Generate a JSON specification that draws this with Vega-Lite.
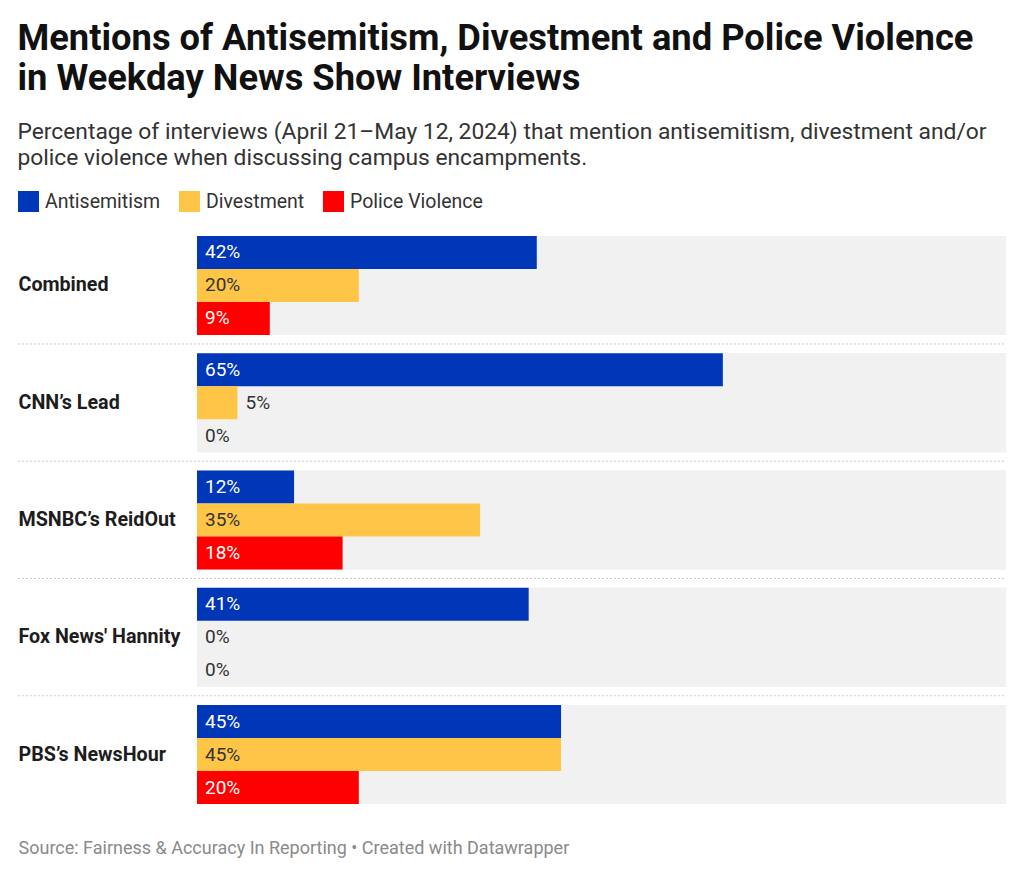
{
  "$schema": "https://vega.github.io/schema/vega-lite/v6.json",
  "width": 809,
  "height": 568,
  "autosize": {"type": "none"},
  "padding": {"left": 197, "top": 236, "right": 18, "bottom": 73},
  "background": "white",
  "config": {"view": {"stroke": null}, "font": "Roboto"},
  "title": {
    "text": ["Mentions of Antisemitism, Divestment and Police Violence", "in Weekday News Show Interviews"],
    "subtitle": ["Percentage of interviews (April 21–May 12, 2024) that mention antisemitism, divestment and/or", "police violence when discussing campus encampments."],
    "anchor": "start",
    "fontSize": 36.3,
    "fontWeight": "bold",
    "color": "#111111",
    "lineHeight": 40,
    "subtitleFontSize": 22.8,
    "subtitleColor": "#333333",
    "subtitleLineHeight": 26,
    "subtitlePadding": 24,
    "offset": 21
  },
  "data": {
    "values": [
      {"show": "Combined", "category": "Antisemitism", "value": 0.42},
      {"show": "Combined", "category": "Divestment", "value": 0.20},
      {"show": "Combined", "category": "Police Violence", "value": 0.09},
      {"show": "CNN’s Lead", "category": "Antisemitism", "value": 0.65},
      {"show": "CNN’s Lead", "category": "Divestment", "value": 0.05},
      {"show": "CNN’s Lead", "category": "Police Violence", "value": 0.0},
      {"show": "MSNBC’s ReidOut", "category": "Antisemitism", "value": 0.12},
      {"show": "MSNBC’s ReidOut", "category": "Divestment", "value": 0.35},
      {"show": "MSNBC’s ReidOut", "category": "Police Violence", "value": 0.18},
      {"show": "Fox News' Hannity", "category": "Antisemitism", "value": 0.41},
      {"show": "Fox News' Hannity", "category": "Divestment", "value": 0.0},
      {"show": "Fox News' Hannity", "category": "Police Violence", "value": 0.0},
      {"show": "PBS’s NewsHour", "category": "Antisemitism", "value": 0.45},
      {"show": "PBS’s NewsHour", "category": "Divestment", "value": 0.45},
      {"show": "PBS’s NewsHour", "category": "Police Violence", "value": 0.20}
    ]
  },
  "encoding": {
    "y": {
      "field": "show",
      "type": "nominal",
      "sort": ["Combined", "CNN’s Lead", "MSNBC’s ReidOut", "Fox News' Hannity", "PBS’s NewsHour"],
      "scale": {"paddingInner": 0.156, "paddingOuter": 0},
      "axis": {
        "title": null,
        "domain": false,
        "ticks": false,
        "tickSize": 0,
        "labelAlign": "left",
        "labelPadding": 179,
        "labelFontSize": 19.7,
        "labelFontWeight": "bold",
        "labelColor": "#1d1d1d",
        "labelBaseline": "middle"
      }
    }
  },
  "layer": [
    {
      "mark": {"type": "bar", "color": "#f1f1f1"},
      "encoding": {
        "x": {
          "datum": 0,
          "type": "quantitative",
          "scale": {"domain": [0, 1], "nice": false},
          "axis": {
            "title": "Source: Fairness & Accuracy In Reporting • Created with Datawrapper",
            "domain": false, "ticks": false, "labels": false, "grid": false,
            "titleAnchor": "start", "titleAlign": "left", "titleX": -179, "titleY": 49,
            "titleBaseline": "alphabetic", "titleFontSize": 18, "titleFontWeight": "normal", "titleColor": "#8a8a8a"
          }
        },
        "x2": {"datum": 1}
      }
    },
    {
      "transform": [{"filter": "datum.category === 'Antisemitism' && datum.show !== 'PBS’s NewsHour'"}],
      "mark": {"type": "rule", "color": "#c8c8c8", "strokeDash": [2, 2], "strokeWidth": 1, "yOffset": 9},
      "encoding": {
        "y": {"field": "show", "type": "nominal", "bandPosition": 1, "sort": ["Combined", "CNN’s Lead", "MSNBC’s ReidOut", "Fox News' Hannity", "PBS’s NewsHour"]},
        "x": {
          "datum": -0.2213,
          "type": "quantitative",
          "axis": {
            "title": "Source: Fairness & Accuracy In Reporting • Created with Datawrapper",
            "domain": false, "ticks": false, "labels": false, "grid": false,
            "titleAnchor": "start", "titleAlign": "left", "titleX": -179, "titleY": 49,
            "titleBaseline": "alphabetic", "titleFontSize": 18, "titleFontWeight": "normal", "titleColor": "#8a8a8a"
          }
        },
        "x2": {"datum": 1}
      }
    },
    {
      "mark": {"type": "bar"},
      "encoding": {
        "x": {
          "field": "value",
          "type": "quantitative",
          "axis": {
            "title": "Source: Fairness & Accuracy In Reporting • Created with Datawrapper",
            "domain": false, "ticks": false, "labels": false, "grid": false,
            "titleAnchor": "start", "titleAlign": "left", "titleX": -179, "titleY": 49,
            "titleBaseline": "alphabetic", "titleFontSize": 18, "titleFontWeight": "normal", "titleColor": "#8a8a8a"
          }
        },
        "x2": {"datum": 0},
        "yOffset": {"field": "category", "type": "nominal", "sort": ["Antisemitism", "Divestment", "Police Violence"], "scale": {"paddingInner": 0, "paddingOuter": 0}},
        "color": {
          "field": "category",
          "type": "nominal",
          "scale": {"domain": ["Antisemitism", "Divestment", "Police Violence"], "range": ["#0037b9", "#fec547", "#ff0000"]},
          "legend": {
            "orient": "none",
            "legendX": -179,
            "legendY": -45,
            "direction": "horizontal",
            "title": null,
            "symbolType": "square",
            "symbolSize": 441,
            "symbolStrokeWidth": 0,
            "symbolOpacity": 1,
            "labelFontSize": 19.5,
            "labelColor": "#333333",
            "labelOffset": 6,
            "columnPadding": 18
          }
        }
      }
    },
    {
      "transform": [{"filter": "datum.value >= 0.09"}],
      "mark": {"type": "text", "align": "left", "baseline": "middle", "dx": 8, "fontSize": 19},
      "encoding": {
        "x": {
          "datum": 0,
          "type": "quantitative",
          "axis": {
            "title": "Source: Fairness & Accuracy In Reporting • Created with Datawrapper",
            "domain": false, "ticks": false, "labels": false, "grid": false,
            "titleAnchor": "start", "titleAlign": "left", "titleX": -179, "titleY": 49,
            "titleBaseline": "alphabetic", "titleFontSize": 18, "titleFontWeight": "normal", "titleColor": "#8a8a8a"
          }
        },
        "yOffset": {"field": "category", "type": "nominal", "sort": ["Antisemitism", "Divestment", "Police Violence"]},
        "text": {"field": "value", "type": "quantitative", "format": ".0%"},
        "color": {"condition": {"test": "datum.category === 'Divestment'", "value": "#333333"}, "value": "#ffffff"}
      }
    },
    {
      "transform": [{"filter": "datum.value < 0.09"}],
      "mark": {"type": "text", "align": "left", "baseline": "middle", "dx": 8, "fontSize": 19, "color": "#333333"},
      "encoding": {
        "x": {
          "field": "value",
          "type": "quantitative",
          "axis": {
            "title": "Source: Fairness & Accuracy In Reporting • Created with Datawrapper",
            "domain": false, "ticks": false, "labels": false, "grid": false,
            "titleAnchor": "start", "titleAlign": "left", "titleX": -179, "titleY": 49,
            "titleBaseline": "alphabetic", "titleFontSize": 18, "titleFontWeight": "normal", "titleColor": "#8a8a8a"
          }
        },
        "yOffset": {"field": "category", "type": "nominal", "sort": ["Antisemitism", "Divestment", "Police Violence"]},
        "text": {"field": "value", "type": "quantitative", "format": ".0%"}
      }
    }
  ]
}
